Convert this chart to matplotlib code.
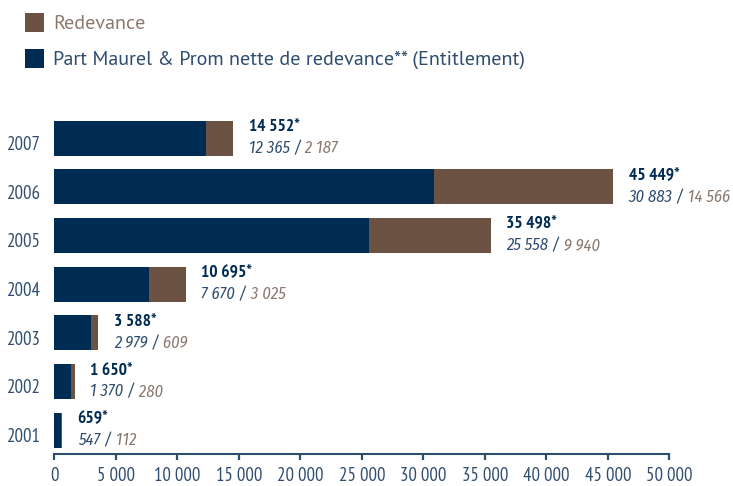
import matplotlib
matplotlib.use("Agg")
import matplotlib.pyplot as plt
from matplotlib.patches import Rectangle
from matplotlib.ticker import FuncFormatter
from matplotlib.transforms import ScaledTranslation
import logging
logging.getLogger("matplotlib.font_manager").setLevel(logging.ERROR)

years = ["2001", "2002", "2003", "2004", "2005", "2006", "2007"]
net_share = [547, 1370, 2979, 7670, 25558, 30883, 12365]
royalty = [112, 280, 609, 3025, 9940, 14566, 2187]
totals = [659, 1650, 3588, 10695, 35498, 45449, 14552]
xticks = [0, 5000, 10000, 15000, 20000, 25000, 30000, 35000, 40000, 45000, 50000]
legend_labels = ["Redevance", "Part Maurel & Prom nette de redevance** (Entitlement)"]

NAVY = "#002b52"
BROWN = "#6b5242"
TXT_NAVY = "#2f4d6e"
TXT_BROWN = "#8a786c"
COND = ["PT Sans Narrow", "DejaVu Sans"]
COND_IT = ["Fira Sans Condensed", "IBM Plex Sans Condensed", "PT Sans Narrow", "DejaVu Sans"]
LEG = ["PT Sans", "DejaVu Sans"]

def fmt(v):
    return f"{int(v):,}".replace(",", " ")

W, H = 733, 486
fig = plt.figure(figsize=(7.33, 4.86), dpi=100)
ax = fig.add_axes([54.3/W, 32/H, 615/W, 340.3/H])

ypos = list(range(len(years)))
ax.barh(ypos, net_share, height=0.72, color=NAVY, linewidth=0)
ax.barh(ypos, royalty, left=net_share, height=0.72, color=BROWN, linewidth=0)

ax.set_xlim(0, 50000)
ax.set_ylim(-0.49, 6.5)
ax.set_xticks(xticks)
ax.xaxis.set_major_formatter(FuncFormatter(lambda v, p: fmt(v)))
ax.set_yticks(ypos)
ax.set_yticklabels(years)
for s in ["top", "right", "left"]:
    ax.spines[s].set_visible(False)
ax.spines["bottom"].set_color(TXT_NAVY)
ax.spines["bottom"].set_linewidth(1.5)
ax.tick_params(axis="x", direction="out", length=4.5, width=1.6, color=TXT_NAVY,
               labelcolor=TXT_NAVY, labelsize=13.5, pad=4.5)
ax.tick_params(axis="y", length=0, labelcolor=TXT_NAVY, labelsize=13.5, pad=9.5)
for lbl in ax.get_xticklabels() + ax.get_yticklabels():
    lbl.set_family(COND)
shift = ScaledTranslation(0, -0.05, fig.dpi_scale_trans)
for lbl in ax.get_yticklabels():
    lbl.set_transform(lbl.get_transform() + shift)

for y, t, n, r in zip(ypos, totals, net_share, royalty):
    ax.annotate(fmt(t) + "*", xy=(t, y), xytext=(11, 5), textcoords="offset points",
                ha="left", va="baseline", fontsize=12.5, fontweight="bold",
                color=NAVY, family=COND)
    a = ax.annotate(fmt(n) + " /", xy=(t, y), xytext=(11, -11), textcoords="offset points",
                    ha="left", va="baseline", fontsize=12, style="italic",
                    color=TXT_NAVY, family=COND_IT)
    ax.annotate(" " + fmt(r), xy=(1, 0), xycoords=a, ha="left", va="bottom",
                fontsize=12, style="italic", color=TXT_BROWN, family=COND_IT)

# legend
for i, (lab, col, tcol) in enumerate(zip(legend_labels, [BROWN, NAVY], [TXT_BROWN, TXT_NAVY])):
    top = 13 + i * 36
    fig.add_artist(Rectangle((25/W, 1 - (top + 19)/H), 19/W, 19/H,
                             transform=fig.transFigure, color=col, linewidth=0))
    fig.text(53/W, 1 - (top + 16)/H, lab, ha="left", va="baseline", fontsize=14.5,
             fontweight="normal", color=tcol, family=LEG)

fig.savefig("out.png", dpi=100)
